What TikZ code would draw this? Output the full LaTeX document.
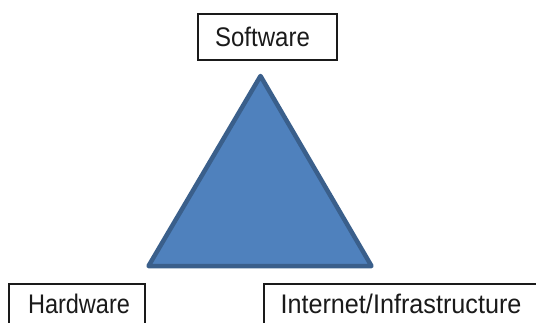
\documentclass[tikz,border=0pt]{standalone}
\usepackage{fontspec}
\setmainfont{Liberation Sans}
\definecolor{trifill}{HTML}{4F81BD}
\definecolor{tridraw}{HTML}{3A5F8B}
\definecolor{ink}{HTML}{1A1A1A}
\begin{document}
\begin{tikzpicture}[x=1pt,y=-1pt,
  box/.style={draw=ink, line width=2pt, fill=white, inner sep=0pt, anchor=north west},
  lbl/.style={text=ink, font=\fontsize{24}{28}\selectfont, inner sep=0pt, anchor=base}]
\useasboundingbox (0,0) rectangle (536,322);
% triangle
\coordinate (apex) at (260.5,76);
\coordinate (bl) at (148.5,266);
\coordinate (br) at (371.5,266);
\draw[fill=trifill, draw=tridraw, line width=4.5pt, line join=round] (apex) -- (bl) -- (br) -- cycle;
% boxes
\node[box, minimum width=139pt, minimum height=46pt] (sw) at (197,13) {};
\node[box, minimum width=136pt, minimum height=60pt] (hw) at (8,283) {};
\node[box, minimum width=300pt, minimum height=60pt] (ii) at (263,283) {};
% labels
\node[lbl] (swt) at (262.5,46) {\scalebox{1.0}[1.12]{Software}};
\node[lbl] (hwt) at (79,313) {\scalebox{0.98}[1.12]{Hardware}};
\node[lbl] (iit) at (401,313) {\scalebox{1.05}[1.12]{Internet/Infrastructure}};
\end{tikzpicture}
\end{document}
